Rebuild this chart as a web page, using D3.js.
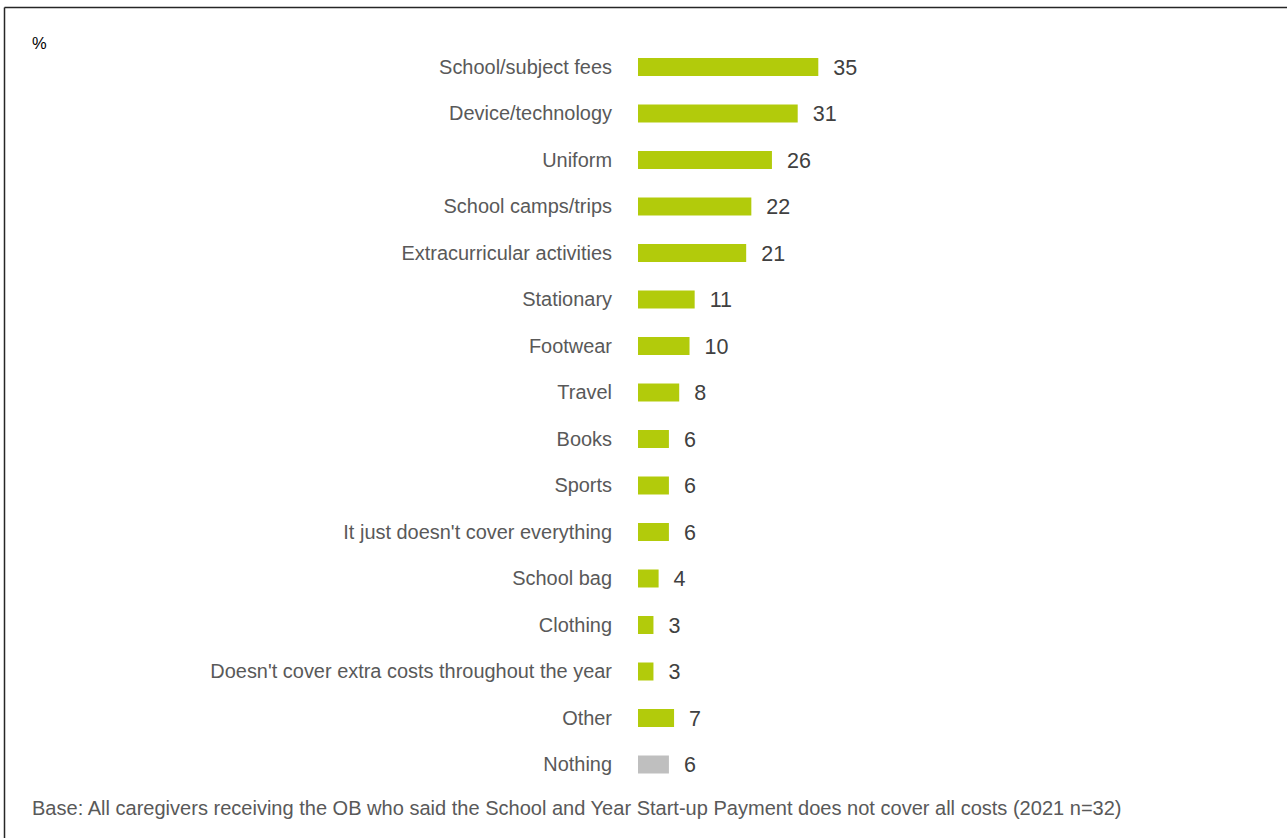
<!DOCTYPE html>
<html>
<head>
<meta charset="utf-8">
<script src="https://cdn.jsdelivr.net/npm/d3@7"></script>
<style>
  html, body { margin: 0; padding: 0; background: #fff; }
  svg { display: block; font-family: "Liberation Sans", Arial, sans-serif; }
</style>
</head>
<body>
<svg id="chart" width="1287" height="838"></svg>
<script>
// Reasons the start-up payment does not cover all costs (%)
const categories = [
  "School/subject fees",
  "Device/technology",
  "Uniform",
  "School camps/trips",
  "Extracurricular activities",
  "Stationary",
  "Footwear",
  "Travel",
  "Books",
  "Sports",
  "It just doesn't cover everything",
  "School bag",
  "Clothing",
  "Doesn't cover extra costs throughout the year",
  "Other",
  "Nothing"
];
const values = [35, 31, 26, 22, 21, 11, 10, 8, 6, 6, 6, 4, 3, 3, 7, 6];
const neutralCategories = ["Nothing"];
const unitLabel = "%";
const baseNote = "Base: All caregivers receiving the OB who said the School and Year Start-up Payment does not cover all costs (2021 n=32)";

const data = categories.map((c, i) => ({ category: c, value: values[i] }));

const svg = d3.select("#chart");
const W = 1287, H = 838;

// frame lines (top and left edge)
svg.append("line").attr("x1", 4.5).attr("x2", W).attr("y1", 7.5).attr("y2", 7.5)
  .attr("stroke", "#262626").attr("stroke-width", 1.5);
svg.append("line").attr("x1", 4.5).attr("x2", 4.5).attr("y1", 7.5).attr("y2", H)
  .attr("stroke", "#262626").attr("stroke-width", 1.5);

const x = d3.scaleLinear().domain([0, 35]).range([638, 818.3]);
const y = d3.scaleBand()
  .domain(categories)
  .range([43.75, 787.75])
  .paddingInner(0.613)
  .paddingOuter(0.3065);

const rows = svg.append("g").selectAll("g.row")
  .data(data)
  .join("g")
  .attr("class", "row");

rows.append("rect")
  .attr("x", x(0))
  .attr("y", d => y(d.category))
  .attr("width", d => x(d.value) - x(0))
  .attr("height", y.bandwidth())
  .attr("fill", d => neutralCategories.includes(d.category) ? "#bfbfbf" : "#b2cb0b");

rows.append("text")
  .attr("x", x(0) - 26)
  .attr("y", d => y(d.category) + y.bandwidth() / 2)
  .attr("dy", "0.35em")
  .attr("text-anchor", "end")
  .attr("font-size", 19.95)
  .attr("fill", "#595959")
  .text(d => d.category);

rows.append("text")
  .attr("x", d => x(d.value) + 15)
  .attr("y", d => y(d.category) + y.bandwidth() / 2)
  .attr("dy", "0.36em")
  .attr("font-size", 21.5)
  .attr("fill", "#404040")
  .text(d => d.value);

svg.append("text")
  .attr("x", 32).attr("y", 49)
  .attr("font-size", 16.5)
  .attr("fill", "#000")
  .text(unitLabel);

svg.append("text")
  .attr("x", 32).attr("y", 815)
  .attr("font-size", 20.05)
  .attr("fill", "#595959")
  .text(baseNote);
</script>
</body>
</html>
